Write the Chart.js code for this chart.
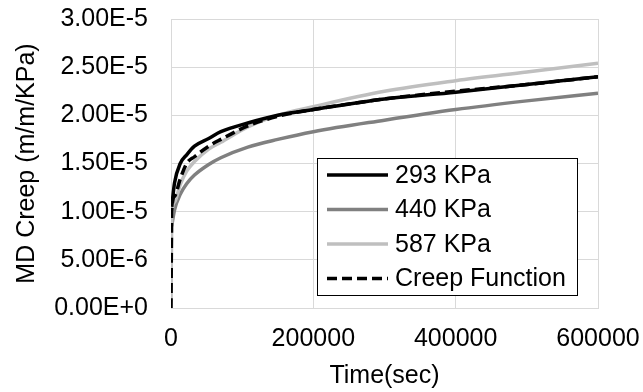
<!DOCTYPE html>
<html lang="en">
<head>
    <meta charset="UTF-8">
    <title>MD Creep</title>
    <script src="https://cdn.jsdelivr.net/npm/chart.js"></script>
    <style>
        html, body {
            margin: 0;
            padding: 0;
            background-color: #ffffff;
        }

        #wrap {
            width: 643px;
            height: 392px;
        }
    </style>
</head>
<body>
<div id="wrap">
    <canvas id="creepChart" width="643" height="392"></canvas>
</div>

<script>
    // Datos (tiempo en segundos, creep en m/m/KPa)
    const timeSec = [0, 1000, 5000, 13000, 22000, 33000, 53000, 70000, 108000, 150000, 200000, 300000, 400000, 500000, 600000];
    const creep293 = [null, 1.05e-5, 1.30e-5, 1.50e-5, 1.59e-5, 1.68e-5, 1.76e-5, 1.83e-5, 1.92e-5, 2.00e-5, 2.06e-5, 2.17e-5, 2.24e-5, 2.32e-5, 2.40e-5];
    const creep440 = [null, 0.85e-5, 1.02e-5, 1.18e-5, 1.29e-5, 1.38e-5, 1.49e-5, 1.56e-5, 1.67e-5, 1.75e-5, 1.83e-5, 1.95e-5, 2.06e-5, 2.15e-5, 2.23e-5];
    const creep587 = [0, 0.95e-5, 1.10e-5, 1.28e-5, 1.42e-5, 1.52e-5, 1.65e-5, 1.72e-5, 1.88e-5, 2.00e-5, 2.09e-5, 2.25e-5, 2.36e-5, 2.45e-5, 2.54e-5];
    const creepFunction = [0, 1.00e-5, 1.16e-5, 1.34e-5, 1.50e-5, 1.57e-5, 1.68e-5, 1.75e-5, 1.89e-5, 1.99e-5, 2.06e-5, 2.17e-5, 2.25e-5, 2.32e-5, 2.40e-5];

    const seriesNames = ['293 KPa', '440 KPa', '587 KPa', 'Creep Function'];
    const xTickStep = 200000;
    const yTickStep = 5e-6;

    const FONT = { family: '"Liberation Sans", Arial, sans-serif', size: 25 };
    const TEXT = '#000000';
    const GRID = '#d9d9d9';

    function toPoints(values) {
        const pts = [];
        values.forEach((v, i) => {
            if (v !== null) pts.push({ x: timeSec[i], y: v });
        });
        return pts;
    }

    // Leyenda con recuadro dentro del area del grafico
    const boxLegend = {
        id: 'boxLegend',
        afterDatasetsDraw(chart, args, opts) {
            const ctx = chart.ctx;
            ctx.save();
            ctx.fillStyle = '#ffffff';
            ctx.fillRect(opts.x, opts.y, opts.w, opts.h);
            ctx.strokeStyle = '#000000';
            ctx.lineWidth = 1;
            ctx.strokeRect(opts.x + 0.5, opts.y + 0.5, opts.w, opts.h);
            ctx.font = FONT.size + 'px ' + FONT.family;
            ctx.textBaseline = 'middle';
            chart.data.datasets.forEach((ds, i) => {
                const cy = opts.y + opts.firstRow + i * opts.rowH;
                ctx.beginPath();
                ctx.setLineDash(ds.borderDash || []);
                ctx.strokeStyle = ds.borderColor;
                ctx.lineWidth = ds.borderWidth;
                ctx.moveTo(opts.x + 10, cy);
                ctx.lineTo(opts.x + 10 + opts.lineLen, cy);
                ctx.stroke();
                ctx.setLineDash([]);
                ctx.fillStyle = TEXT;
                ctx.fillText(ds.label, opts.x + 10 + opts.lineLen + 7, cy + 1);
            });
            ctx.restore();
        }
    };

    const ctx = document.getElementById('creepChart').getContext('2d');

    new Chart(ctx, {
        type: 'line',
        data: {
            datasets: [
                { label: seriesNames[0], data: toPoints(creep293), borderColor: '#000000', borderWidth: 3.5, order: 1 },
                { label: seriesNames[1], data: toPoints(creep440), borderColor: '#808080', borderWidth: 3.5, order: 3 },
                { label: seriesNames[2], data: toPoints(creep587), borderColor: '#bfbfbf', borderWidth: 3.5, order: 2 },
                { label: seriesNames[3], data: toPoints(creepFunction), borderColor: '#000000', borderWidth: 3.5, borderDash: [10, 5], order: 0 }
            ]
        },
        options: {
            responsive: false,
            animation: false,
            layout: { padding: 0 },
            elements: {
                point: { radius: 0 },
                line: { cubicInterpolationMode: 'monotone', fill: false }
            },
            plugins: {
                legend: { display: false },
                tooltip: { enabled: false },
                boxLegend: { x: 317, y: 158, w: 260, h: 137, firstRow: 17, rowH: 34.5, lineLen: 61 }
            },
            scales: {
                x: {
                    type: 'linear',
                    min: 0,
                    max: 600000,
                    ticks: {
                        stepSize: xTickStep,
                        padding: 16,
                        color: TEXT,
                        font: FONT,
                        maxRotation: 0,
                        callback: v => String(v)
                    },
                    grid: { color: GRID, drawTicks: false },
                    border: { color: GRID },
                    title: { display: true, text: 'Time(sec)', color: TEXT, font: FONT, padding: { top: 0, bottom: 1 } },
                    afterFit: s => {
                        s.height = 84;
                        s.paddingLeft = 0;
                        s.paddingRight = 45;
                    }
                },
                y: {
                    min: 0,
                    max: 3e-5,
                    ticks: {
                        stepSize: yTickStep,
                        padding: 23,
                        color: TEXT,
                        font: FONT,
                        callback: v => v.toExponential(2).toUpperCase()
                    },
                    grid: { color: GRID, drawTicks: false },
                    border: { color: GRID },
                    title: { display: true, text: 'MD Creep (m/m/KPa)', color: TEXT, font: FONT, padding: { top: 12.6, bottom: 0 } },
                    afterFit: s => {
                        s.width = 171;
                        s.paddingTop = 19;
                        s.paddingBottom = 0;
                    }
                }
            }
        },
        plugins: [boxLegend]
    });
</script>
</body>
</html>
